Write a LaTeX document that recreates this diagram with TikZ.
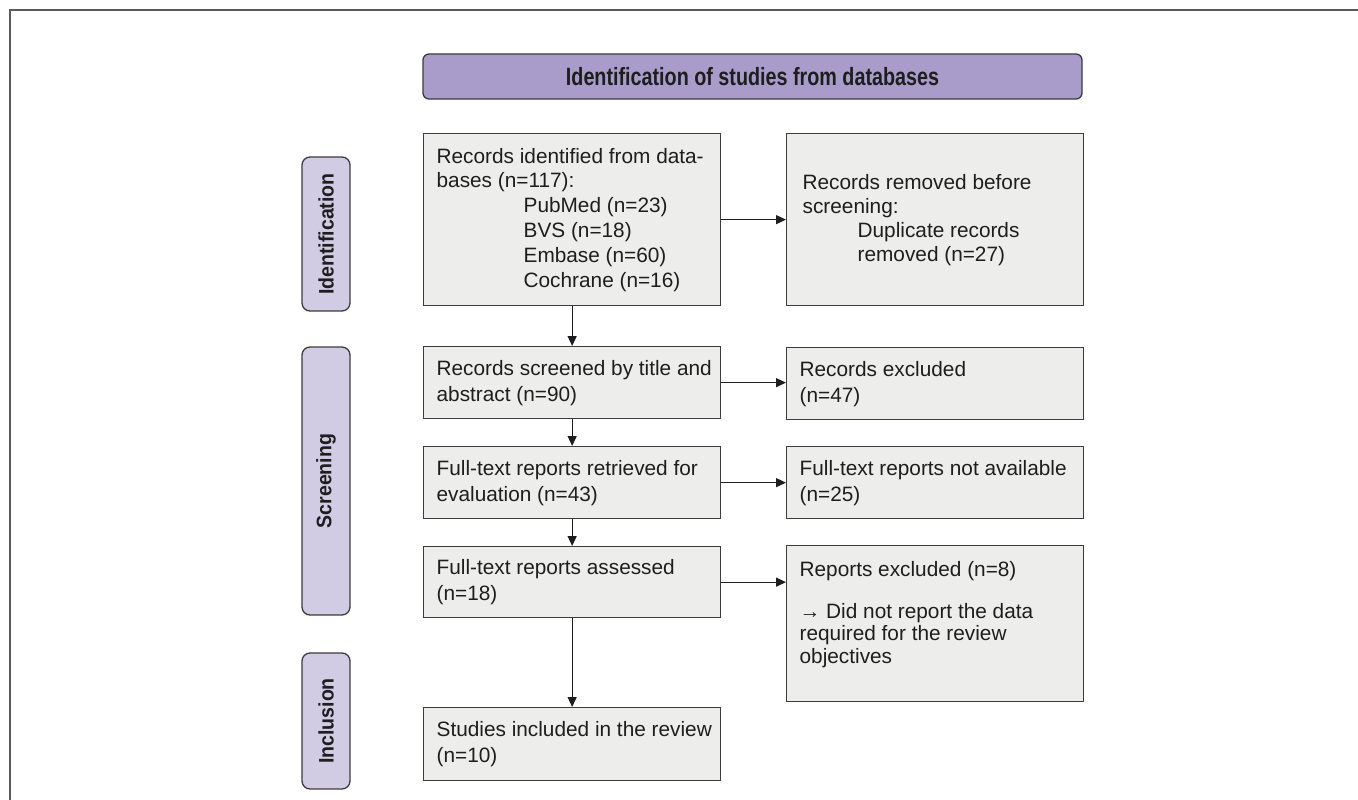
\documentclass[tikz,border=0pt]{standalone}
\usepackage{fontspec}
\setmainfont{Liberation Sans}
\newfontfamily\hdfont{Liberation Sans}[FakeStretch=0.79]
\newfontfamily\phfont{Liberation Sans}[FakeStretch=0.93]
\usetikzlibrary{arrows.meta}
\definecolor{hdfill}{HTML}{A99CCB}
\definecolor{phfill}{HTML}{D1CBE4}
\definecolor{boxfill}{HTML}{EDEEEC}
\definecolor{edgecol}{HTML}{3C3C3C}
\definecolor{ink}{HTML}{1E1E1E}
\definecolor{framecol}{HTML}{5A5A5A}
\newcommand\btext[2][13pt]{\parbox{297pt}{\raggedright\leftskip=#1\relax #2\par}}
\newcommand\btextt[2][13pt]{\parbox[t]{297pt}{\raggedright\leftskip=#1\relax #2\par}}
\begin{document}
\begin{tikzpicture}[x=1pt,y=-1pt,
  box/.style={draw=edgecol, fill=boxfill, line width=1.3pt, anchor=north west,
    inner xsep=0pt, inner ysep=0pt, minimum width=297pt,
    text=ink, font=\fontsize{20.8}{26}\selectfont},
  phase/.style={draw=edgecol, fill=phfill, line width=1.3pt, rounded corners=8pt,
    rotate=90, minimum height=48pt, inner sep=0pt, text=ink,
    font=\phfont\bfseries\fontsize{21}{24}\selectfont},
  header/.style={draw=edgecol, fill=hdfill, line width=1.3pt, rounded corners=6pt,
    minimum width=659pt, minimum height=45pt, inner sep=0pt, text=ink,
    font=\hdfont\bfseries\fontsize{25}{30}\selectfont},
  arr/.style={draw=ink, line width=1.3pt, -{Triangle[length=10pt,width=9pt]}}
]
\useasboundingbox (0,0) rectangle (1358,800);
% frame
\draw[framecol, line width=2pt] (10,800) -- (10,10) -- (1358,10);

\node[header] (hd) at (752.5,76.5) {Identification of studies from databases};

\node[phase, minimum width=154pt] (pid) at (326,234) {Identification};
\node[phase, minimum width=268pt] (psc) at (326,481) {Screening};
\node[phase, minimum width=136pt] (pin) at (326,721) {Inclusion};

\node[box, minimum height=172pt, font=\fontsize{20.8}{24.8}\selectfont] (b1) at (423,133) {\btext{Records identified from data-\\
bases (n=117):\\
\hspace*{87pt}PubMed (n=23)\\
\hspace*{87pt}BVS (n=18)\\
\hspace*{87pt}Embase (n=60)\\
\hspace*{87pt}Cochrane (n=16)}};

\node[box, minimum height=172pt, font=\fontsize{20.8}{24}\selectfont] (b2) at (786,133) {\btext[16pt]{Records removed before\\
screening:\\
\hspace*{55pt}Duplicate records\\
\hspace*{55pt}removed (n=27)}};

\node[box, minimum height=72pt] (b3) at (423,346) {\btext{Records screened by title and\\abstract (n=90)}};
\node[box, minimum height=72pt] (b4) at (786,347) {\btext{Records excluded\\(n=47)}};
\node[box, minimum height=72pt] (b5) at (423,446) {\btext{Full-text reports retrieved for\\evaluation (n=43)}};
\node[box, minimum height=72pt] (b6) at (786,446) {\btext{Full-text reports not available\\(n=25)}};
\node[box, minimum height=71pt] (b7) at (423,546) {\btext{Full-text reports assessed\\(n=18)}};
\node[box, inner ysep=15.5pt, text height=15.5pt, text depth=109.5pt, font=\fontsize{20.8}{22.5}\selectfont] (b8) at (786,545) {\btextt{Reports excluded (n=8)\\[19pt]
→ Did not report the data\\
required for the review\\
objectives}};
\node[box, minimum height=73pt] (b9) at (423,707) {\btext{Studies included in the review\\(n=10)}};

\draw[arr] (b1.south) -- (b3.north);
\draw[arr] (b3.south) -- (b5.north);
\draw[arr] (b5.south) -- (b7.north);
\draw[arr] (b7.south) -- (b9.north);

\draw[arr] (b1.east) -- (b2.west);
\draw[arr] (b3.east) -- (b3.east -| b4.west);
\draw[arr] (b5.east) -- (b5.east -| b6.west);
\draw[arr] (b7.east) -- (b7.east -| b8.west);
\end{tikzpicture}
\end{document}
